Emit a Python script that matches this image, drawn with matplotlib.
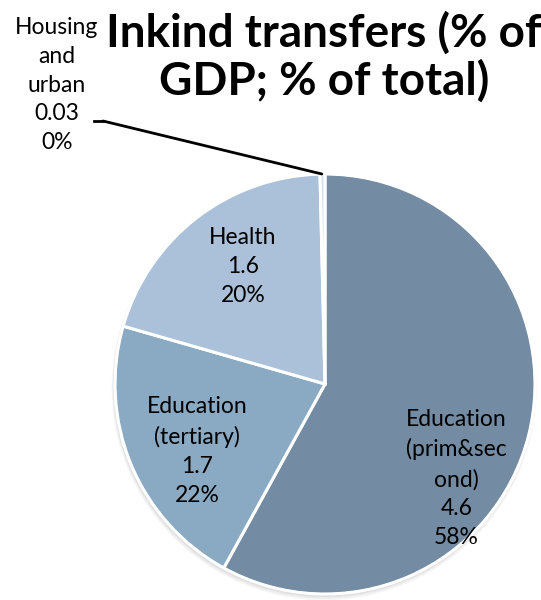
import matplotlib.pyplot as plt
from matplotlib.patches import Circle
from matplotlib.lines import Line2D

# -------------------------
# Data
# -------------------------
labels = ["Education\n(prim&sec\nond)", "Education\n(tertiary)", "Health", "Housing\nand\nurban"]
values = [4.6, 1.7, 1.6, 0.03]
pct_labels = ["58%", "22%", "20%", "0%"]
colors = ["#738ca3", "#8aaac4", "#aac1d9", "#d6e1ed"]

plt.rcParams['font.family'] = ['Lato', 'DejaVu Sans']

W, H = 541, 600
fig = plt.figure(figsize=(W / 100, H / 100), dpi=100)
# pie axes: centre at (325, 384) px, radius 210 px
R = 210.0
pad = 1.06
side = 2 * R * pad
ax = fig.add_axes([(325 - R * pad) / W, (H - 384 - R * pad) / H, side / W, side / H])

# soft drop shadow
for i, a in enumerate([0.05, 0.06, 0.08, 0.10]):
    ax.add_patch(Circle((-0.004, -0.018 + 0.004 * i), 1.012 - 0.004 * i,
                        color='#555555', alpha=a, lw=0, zorder=0))

wedges, _ = ax.pie(values, colors=colors, startangle=90, counterclock=False,
                   radius=1.0, wedgeprops=dict(edgecolor='white', linewidth=2.2))
for w in wedges:
    w.set_zorder(2)
ax.add_patch(Circle((0, 0), 1.0, fill=False, ec='white', lw=1.5, zorder=3))
ax.set_xlim(-pad, pad)
ax.set_ylim(-pad, pad)
ax.set_aspect('equal')
ax.axis('off')

fs = 16.5
ls = 1.47
ax.text(0.625, -0.45, f"{labels[0]}\n{values[0]}\n{pct_labels[0]}", ha='center', va='center',
        fontsize=fs, linespacing=ls, zorder=4)
ax.text(-0.61, -0.32, f"{labels[1]}\n{values[1]}\n{pct_labels[1]}", ha='center', va='center',
        fontsize=fs, linespacing=ls, zorder=4)
ax.text(-0.39, 0.56, f"{labels[2]}\n{values[2]}\n{pct_labels[2]}", ha='center', va='center',
        fontsize=fs, linespacing=ls, zorder=4)

# label and leader line for the tiny housing slice
fig.text(57 / W, 1 - 85 / H, f"{labels[3]}\n{values[3]}\n{pct_labels[3]}", ha='center', va='center',
         fontsize=fs, linespacing=ls)
fig.add_artist(Line2D([94 / W, 103 / W], [1 - 121 / H, 1 - 121 / H], transform=fig.transFigure,
                      color='black', lw=2))
ax.annotate("", xy=(-0.015, 1.0), xycoords='data', xytext=(103 / W, 1 - 121 / H),
            textcoords='figure fraction',
            arrowprops=dict(arrowstyle='-', color='black', lw=2, shrinkA=0, shrinkB=0), zorder=5)

fig.text(324 / W, 1 - 57 / H, "Inkind transfers (% of\nGDP; % of total)", ha='center', va='center',
         fontsize=33, fontweight='bold', linespacing=1.12)

fig.savefig("out.png", dpi=100)
